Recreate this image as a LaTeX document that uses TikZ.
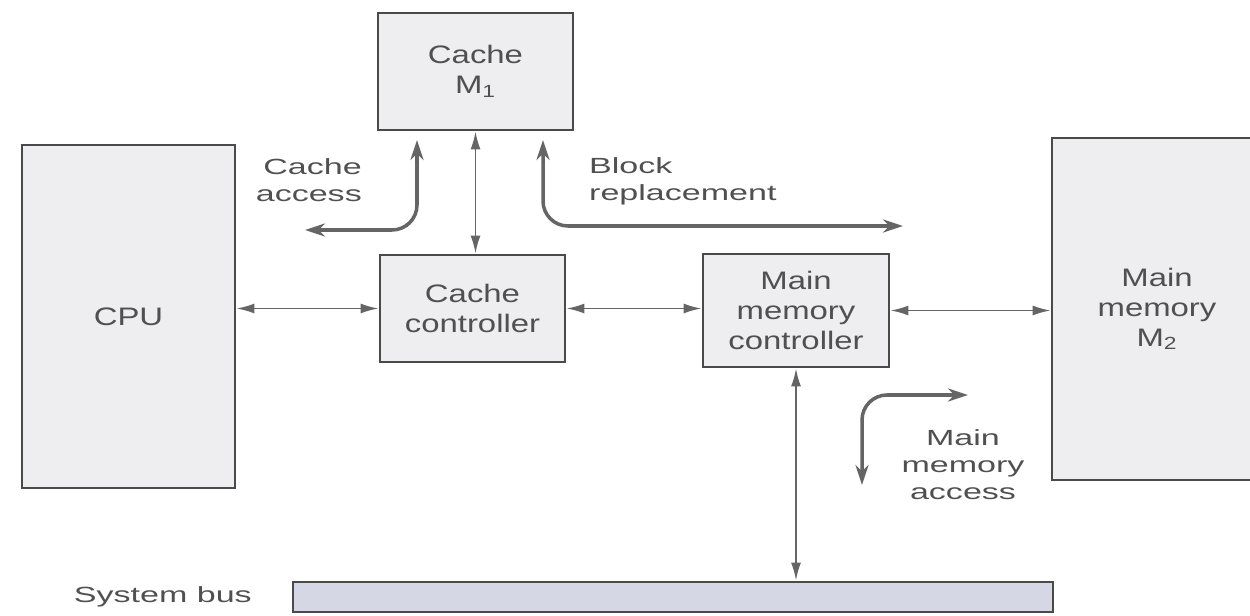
\documentclass[tikz,border=0pt]{standalone}
\usepackage{fontspec}
\setmainfont{Liberation Sans}
\newfontfamily\boxfont[FakeStretch=1.3]{Liberation Sans}
\newfontfamily\notefont[FakeStretch=1.55]{Liberation Sans}
\usetikzlibrary{arrows.meta}

\definecolor{inkgray}{HTML}{505050}
\definecolor{edgegray}{HTML}{4A4A4A}
\definecolor{boxfill}{HTML}{EEEEF1}
\definecolor{busfill}{HTML}{D6D7E4}
\definecolor{arrowgray}{HTML}{656565}

\tikzset{
  box/.style={draw=edgegray, line width=1.6pt, fill=boxfill, text=inkgray,
    align=center, inner sep=0pt, font=\boxfont\fontsize{14.4}{17}\selectfont},
  link/.style={draw=arrowgray, line width=1.1pt,
    {Latex[length=3.6mm,width=2mm]}-{Latex[length=3.6mm,width=2mm]}},
  flow/.style={draw=arrowgray, line width=2pt, rounded corners=0.5cm,
    {Stealth[length=4mm,width=2.6mm]}-{Stealth[length=4mm,width=2.6mm]}},
  note/.style={text=inkgray, font=\notefont\fontsize{12.5}{15.3}\selectfont}
}

\begin{document}
\begin{tikzpicture}[x=0.02cm, y=-0.02cm]
  \useasboundingbox (0,0) rectangle (1250,615);

  % blocks
  \node[box, minimum width=3.9cm, minimum height=2.34cm] (cache) at (475.5,71.5) {Cache\\M\textsubscript{1}};
  \node[box, minimum width=4.26cm, minimum height=6.86cm] (cpu) at (128.5,316.5) {CPU};
  \node[box, minimum width=3.7cm, minimum height=2.14cm] (ctrl) at (472.5,308.5) {Cache\\controller};
  \node[box, minimum width=3.72cm, minimum height=2.26cm] (mmc) at (796,310.5) {Main\\memory\\controller};
  \node[box, minimum width=4.2cm, minimum height=6.84cm] (mm) at (1157,309) {Main\\memory\\M\textsubscript{2}};
  \node[box, fill=busfill, minimum width=15.2cm, minimum height=0.6cm] (bus) at (673,597) {};

  % connections
  \draw[link] (ctrl.west) -- (ctrl.west -| cpu.east);
  \draw[link] (ctrl.east) -- (ctrl.east -| mmc.west);
  \draw[link] (mmc.east) -- (mmc.east -| mm.west);
  \draw[link] (cache.south) -- (cache.south |- ctrl.north);
  \draw[link] (mmc.south) -- (mmc.south |- bus.north);

  % access paths
  \coordinate (ca1) at (417,140);
  \coordinate (ca2) at (305,230);
  \coordinate (br1) at (543,140);
  \coordinate (br2) at (903,226);
  \coordinate (ma1) at (968,395);
  \coordinate (ma2) at (862,485);
  \draw[flow] (ca1) |- (ca2);
  \draw[flow] (br1) |- (br2);
  \draw[flow] (ma1) -| (ma2);

  \node[note, align=right, anchor=east] (caccess) at (368,180) {Cache\\access};
  \node[note, align=left, anchor=west] (brepl) at (583,181) {Block\\replacement};
  \node[note, align=center] (maccess) at (963,465) {Main\\memory\\access};
  \node[note, anchor=east] (sysbus) at (258,597) {System bus};
\end{tikzpicture}
\end{document}
